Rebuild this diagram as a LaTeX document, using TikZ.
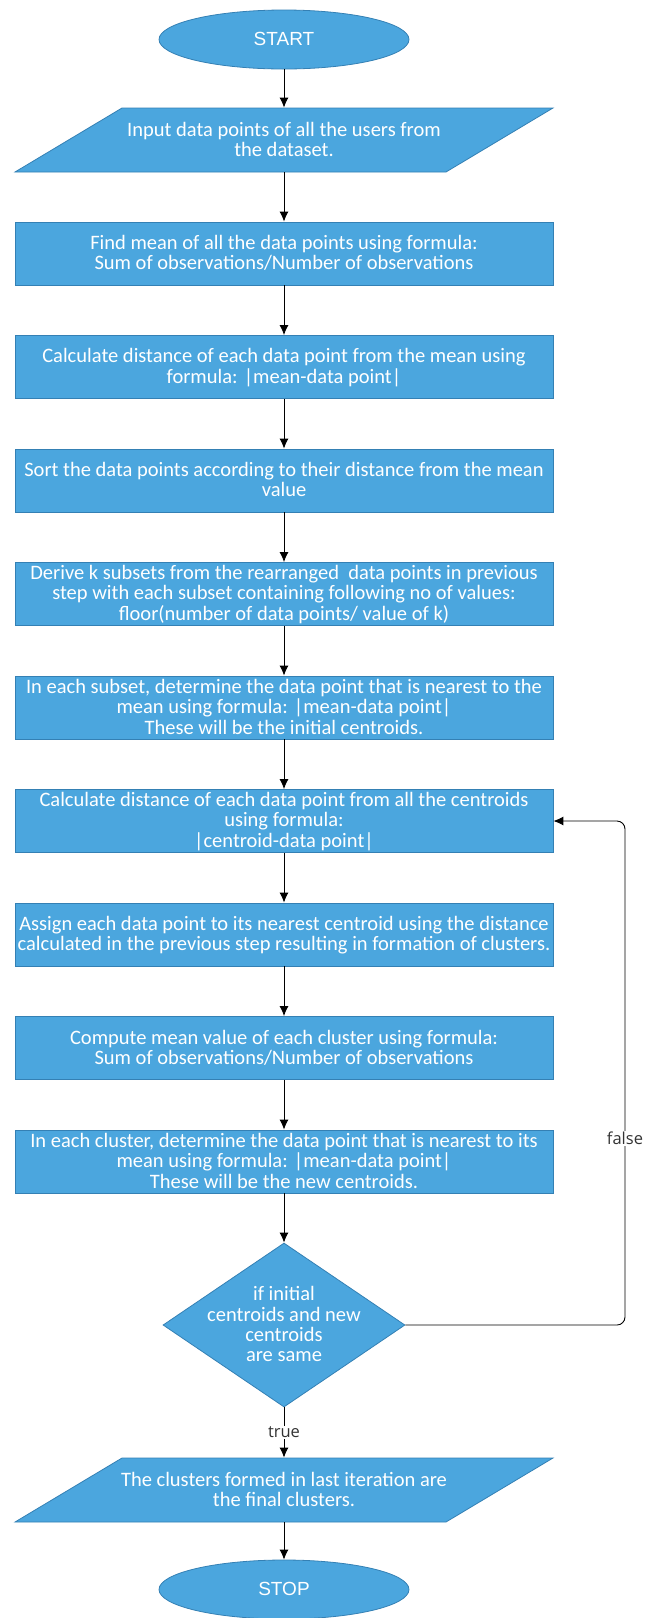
\documentclass[tikz,border=0pt]{standalone}
\usepackage{fontspec}
\setmainfont{Carlito}
\newfontfamily\termfont{Liberation Sans}
\newfontfamily\labelfont{Open Sans}
\usetikzlibrary{shapes,arrows,arrows.meta}
\definecolor{flowblue}{RGB}{75,166,222}
\definecolor{flowedge}{RGB}{52,128,180}
\newcommand{\flowstep}[4]{
	\node [shift={(#3)},#1] (#2) at (0,0) {\strut};
	\node [flowtext] () at (#3) {\begin{tabular}{c}#4\end{tabular}};}

\begin{document}
\begin{tikzpicture}[>={Latex[length=10pt,width=9pt]},x=1pt,y=-1pt,
	flowshape/.style={draw=flowedge, fill=flowblue, line width=0.8pt, inner sep=0pt},
	terminal/.style={flowshape, ellipse, minimum width=250pt, minimum height=59pt},
	process/.style={flowshape, rectangle, minimum width=538pt, minimum height=63pt},
	inout/.style={flowshape, rectangle, xslant=1.672, minimum width=431pt, minimum height=64pt},
	check/.style={flowshape, diamond, minimum width=242pt, minimum height=164pt},
	flowtext/.style={text=white, inner sep=0pt, yshift=-2pt, font=\fontsize{20.5}{20}\selectfont},
	edgelabel/.style={fill=white, text=black!80, inner sep=1pt, font=\labelfont\fontsize{16.5}{18}\selectfont},
	every path/.style={line width=0.9pt}]
	\useasboundingbox (0,0) rectangle (658,1618);
	\flowstep{terminal}{start}{284,39.5}{\termfont\fontsize{19}{20}\selectfont START}
	\flowstep{inout}{input}{284,140}{Input data points of all the users from\\ the dataset.}
	\flowstep{process}{mean}{284,253.5}{Find mean of all the data points using formula:\\ Sum of observations/Number of observations}
	\flowstep{process}{meandist}{284,367}{Calculate distance of each data point from the mean using\\ formula: |mean-data point|}
	\flowstep{process}{sortpts}{284,480.5}{Sort the data points according to their distance from the mean\\ value}
	\flowstep{process}{subsets}{284,594}{Derive k subsets from the rearranged \ data points in previous\\ step with each subset containing following no of values:\\ floor(number of data points/ value of k)}
	\flowstep{process}{initcent}{284,707.5}{In each subset, determine the data point that is nearest to the\\ mean using formula: |mean-data point|\\ These will be the initial centroids.}
	\flowstep{process}{centdist}{284,821}{Calculate distance of each data point from all the centroids\\ using formula:\\ |centroid-data point|}
	\flowstep{process}{assign}{284,934.5}{Assign each data point to its nearest centroid using the distance\\ calculated in the previous step resulting in formation of clusters.}
	\flowstep{process}{newmean}{284,1048}{Compute mean value of each cluster using formula:\\ Sum of observations/Number of observations}
	\flowstep{process}{newcent}{284,1161.5}{In each cluster, determine the data point that is nearest to its\\ mean using formula: |mean-data point|\\ These will be the new centroids.}
	\flowstep{check}{same}{284,1325}{if initial\\ centroids and new\\ centroids\\ are same}
	\flowstep{inout}{output}{284,1490}{The clusters formed in last iteration are\\ the final clusters.}
	\flowstep{terminal}{stop}{284,1589.5}{\termfont\fontsize{19}{20}\selectfont STOP}
	\coordinate (loopdown) at (625,1325);
	\coordinate (loopup) at (625,821);
	\draw [->] (start) -- (input.north -| start);
	\draw [->] (input.south -| mean) -- (mean);
	\draw [->] (mean) -- (meandist);
	\draw [->] (meandist) -- (sortpts);
	\draw [->] (sortpts) -- (subsets);
	\draw [->] (subsets) -- (initcent);
	\draw [->] (initcent) -- (centdist);
	\draw [->] (centdist) -- (assign);
	\draw [->] (assign) -- (newmean);
	\draw [->] (newmean) -- (newcent);
	\draw [->] (newcent) -- (same);
	\draw [->] (same) -- node [edgelabel] {true} (output.north -| same);
	\draw [->] (output.south -| stop) -- (stop);
	\draw [->, rounded corners=8pt] (same.east) -- (loopdown) -- node [edgelabel, pos=0.37] {false} (loopup) -- (centdist.east);
\end{tikzpicture}
\end{document}
